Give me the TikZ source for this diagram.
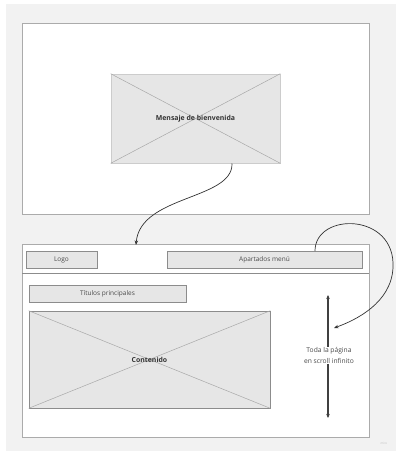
\documentclass[tikz,border=0pt]{standalone}
\usepackage{fontspec}
\setmainfont{Open Sans}
\usetikzlibrary{arrows.meta}
\definecolor{bgray}{HTML}{F2F2F2}
\definecolor{boxfill}{HTML}{E6E6E6}
\definecolor{frameline}{HTML}{ABABAB}
\definecolor{boxline}{HTML}{8C8C8C}
\definecolor{crossline}{HTML}{A8A8A8}
\definecolor{txt}{HTML}{4A4A4A}
\tikzset{
  frame/.style={draw=frameline, line width=0.8pt, fill=white},
  wbox/.style={draw=boxline, line width=0.6pt, fill=boxfill, inner sep=0pt, font=\fontsize{6.5}{7}\selectfont, text=txt},
  imgbox/.style={draw=#1, line width=0.6pt, fill=boxfill, inner sep=0pt},
  boldlabel/.style={font=\bfseries\fontsize{6.9}{8}\selectfont, text=black!80},
  cross/.style={draw=crossline, line width=0.5pt},
  conn/.style={draw=black!80, line width=0.7pt, -{Stealth[length=4.5pt,width=3.5pt]}},
  scrollarrow/.style={draw=black!75, line width=1.1pt, {Stealth[length=4pt,width=3.5pt]}-{Stealth[length=4pt,width=3.5pt]}},
  note/.style={font=\fontsize{6.7}{10.5}\selectfont, text=txt, align=center}
}
\begin{document}
\begin{tikzpicture}[x=1pt,y=-1pt]
\useasboundingbox (0,0) rectangle (396,451);
\fill[bgray] (6,4) rectangle (396,451);
% top screen
\draw[frame] (22,23) rectangle (369,214);
\node[imgbox=black!20, minimum width=169pt, minimum height=89pt] (msg) at (195.5,118.5) {};
\draw[cross] (msg.north west) -- (msg.south east) (msg.south west) -- (msg.north east);
\node[boldlabel] (msgtxt) at (msg.center) {Mensaje de bienvenida};
% bottom screen
\draw[frame] (22,244) rectangle (369,437);
\coordinate (sepL) at (22,273);
\coordinate (sepR) at (369,273);
\draw[draw=boxline, line width=0.6pt] (sepL) -- (sepR);
\node[wbox, minimum width=71pt, minimum height=17pt] (logo) at (61.5,259.5) {Logo};
\node[wbox, minimum width=195pt, minimum height=17pt] (menu) at (264.5,259.5) {Apartados menú};
\node[wbox, minimum width=157pt, minimum height=17pt] (tit) at (107.5,293.5) {Títulos principales};
\node[imgbox=boxline, minimum width=241pt, minimum height=97pt] (cont) at (149.5,359.5) {};
\draw[cross] (cont.north west) -- (cont.south east) (cont.south west) -- (cont.north east);
\node[boldlabel] (conttxt) at (cont.center) {Contenido};
% scroll
\coordinate (sTop) at (328,295);
\coordinate (sBot) at (328,418);
\draw[scrollarrow] (sTop) -- (sBot);
\node[note, fill=white, inner sep=1pt] (scroll) at (329,355.5) {Toda la página\\en scroll infinito};
% connectors
\coordinate (msgOut) at (232,163.5);
\coordinate (topIn) at (136,245);
\draw[conn] (msgOut) .. controls (233,200) and (140,195) .. (topIn);
\coordinate (menuOut) at (315,251);
\coordinate (scrollIn) at (334,328);
\draw[conn] (menuOut) .. controls (315,212) and (396,212) .. (393,268) .. controls (391,303) and (356,320) .. (scrollIn);
% watermark
\node[font=\fontsize{3}{3}\selectfont, text=black!25] (wm) at (384,443) {miro};
\end{tikzpicture}
\end{document}
